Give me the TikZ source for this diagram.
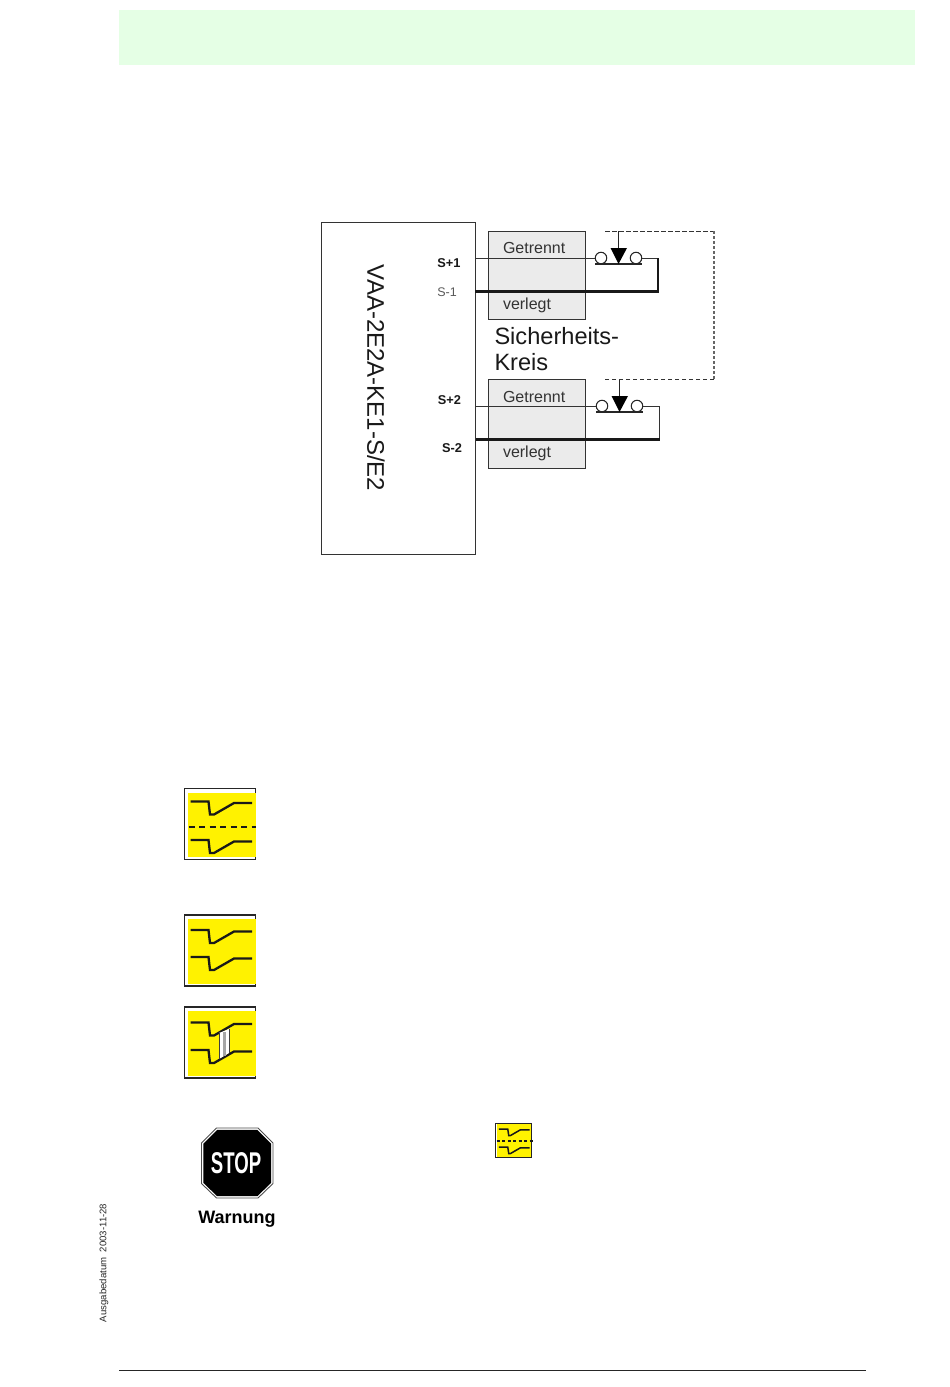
\documentclass[tikz,border=0pt]{standalone}
\usepackage{fontspec}
\setmainfont{Liberation Sans}
\usetikzlibrary{calc}
\newcommand{\fs}[1]{\fontsize{#1}{#1}\selectfont}
\definecolor{band}{HTML}{E5FFE5}
\definecolor{boxgrey}{HTML}{EBEBEB}
\definecolor{linegrey}{HTML}{333333}
\tikzset{
  x=1pt,y=-1pt,
  every node/.style={inner sep=0pt,outer sep=0pt},
  frame/.style={draw=linegrey,line width=0.95pt,fill=white,anchor=north west},
  greybox/.style={draw=linegrey,line width=0.95pt,fill=boxgrey,anchor=north west,minimum width=97.5pt},
  boxlabel/.style={font=\fs{16},text=linegrey,anchor=base west},
  pin/.style={font=\bfseries\fs{12.8},anchor=base,text=black!90},
  wire/.style={line width=0.95pt,draw=black!80},
  wirethick/.style={line width=2.2pt,draw=black!90},
  control/.style={line width=1pt,draw=black!80,dash pattern=on 4.5pt off 2.5pt},
  controlthick/.style={line width=1.9pt,draw=black!60,dash pattern=on 3pt off 2pt},
  contact/.style={circle,draw=black!85,line width=1.05pt,fill=white,minimum size=11.5pt},
  iconframe/.style={draw=black!85,line width=1.05pt,fill=white},
  iconfill/.style={fill=yellow,draw=none},
  dip/.style={line width=2.3pt,draw=black!90,line join=miter},
}
\newcommand{\dipline}[2]{\draw[dip] (#1+6.5,#2) -- (#1+24.5,#2) -- (#1+26,#2+13) -- (#1+30,#2+13) -- (#1+50,#2+1.5) -- (#1+68,#2+1.5);}
\newcommand{\iconbase}[2]{%
  \draw[iconframe] (#1,#2) rectangle (#1+71,#2+71);
  \fill[iconfill] (#1+3.7,#2+4) rectangle (#1+71,#2+68.5);}
\begin{document}
\begin{tikzpicture}
\useasboundingbox (0,0) rectangle (950,1387);
\fill[band] (119,10) rectangle (915,65);
\draw[line width=0.95pt,black!85] (119,1370) -- (866,1370);

% main unit
\node[frame,minimum width=154.5pt,minimum height=332pt] (unit) at (321,222.5) {};
\node[rotate=-90,font=\fs{24},text=black!90] (unitlabel) at (376,378) {VAA-2E2A-KE1-S/E2};
\node[pin] (s1p) at (449,267) {S+1};
\node[pin,font=\fs{12.5},text=black!65] (s1m) at (447,296) {S-1};
\node[pin] (s2p) at (449.5,404) {S+2};
\node[pin] (s2m) at (452,452) {S-2};

% grey boxes
\node[greybox,minimum height=88pt] (g1) at (488,231) {};
\node[greybox,minimum height=89pt] (g2) at (488,379) {};
\node[boxlabel] (g1a) at (503,253.5) {Getrennt};
\node[boxlabel] (g1b) at (503,309) {verlegt};
\node[boxlabel] (g2a) at (503,402) {Getrennt};
\node[boxlabel] (g2b) at (503,457.5) {verlegt};
\node[font=\fs{23.6},text=black!90,anchor=base west] (k1) at (494.5,344) {Sicherheits-};
\node[font=\fs{23.6},text=black!90,anchor=base west] (k2) at (494.5,370) {Kreis};

% anchors on the unit's right edge
\coordinate (a1) at (475,258);
\coordinate (b1) at (475,291.5);
\coordinate (a2) at (476,406);
\coordinate (b2) at (476,439.5);

% contacts
\node[contact] (c1l) at (601,258) {};
\node[contact] (c1r) at (636,258) {};
\node[contact] (c2l) at (602,406) {};
\node[contact] (c2r) at (637,406) {};
\coordinate (e1) at (658,258);
\coordinate (f1) at (658,291.5);
\coordinate (e2) at (659.5,406);
\coordinate (f2) at (659.5,439.5);

\draw[wire] (a1) -- (c1l);
\draw[wire] (c1r) -- (e1);
\draw[wirethick] (e1) -- (f1) -- (b1);
\draw[wire] (a2) -- (c2l);
\draw[wire] (c2r) -- (e2) -- (f2);
\draw[wirethick] (f2) -- (b2);

% bridges
\draw[line width=1.1pt,black!85] (595,264) -- (642,264);
\draw[line width=1.1pt,black!85] (596,412) -- (643,412);

% actuators
\coordinate (t1) at (618.5,231);
\coordinate (t2) at (619.5,379);
\coordinate (d1a) at (605,231);
\coordinate (d1b) at (714,231);
\coordinate (d2b) at (714,379);
\coordinate (d2a) at (605,379);
\draw[line width=1pt,black!85] (t1) -- (618.5,250);
\fill[black] (610.5,248) -- (627,248) -- (618.5,264) -- cycle;
\draw[line width=1pt,black!85] (t2) -- (619.5,398);
\fill[black] (611.5,396) -- (628,396) -- (619.5,412) -- cycle;
\draw[control] (d1a) -- (d1b);
\draw[controlthick] (d1b) -- (d2b);
\draw[control] (d2b) -- (d2a);

% icon 1
\iconbase{184.5}{788.5}
\dipline{184}{801.5}
\dipline{184}{840}
\draw[line width=2.6pt,black!90,dash pattern=on 6pt off 4.5pt] (188.5,827) -- (256,827);
% icon 2
\iconbase{184.5}{915}
\dipline{184}{930}
\dipline{184}{957}
% icon 3
\iconbase{184.5}{1007}
\dipline{184}{1022.5}
\dipline{184}{1050}
\fill[white] (219,1033) -- (229,1029) -- (229,1053) -- (219,1059) -- cycle;
\fill[black!35] (222.5,1031.5) rectangle (226,1056);
\draw[line width=0.9pt,black!75] (219,1033) -- (219,1059) (229,1029) -- (229,1053);

% small icon
\begin{scope}[shift={(495.5,1123)},x=0.5pt,y=-0.5pt]
  \draw[draw=black!85,line width=1pt,fill=white] (0,0) rectangle (71.5,69);
  \fill[iconfill] (2,2) rectangle (71,67);
  \draw[line width=1.5pt,black!90] (6.5,12) -- (24.5,12) -- (26.5,25) -- (30,25) -- (50,13.5) -- (68,13.5);
  \draw[line width=1.5pt,black!90] (6.5,48) -- (24.5,48) -- (26.5,61) -- (30,61) -- (50,49.5) -- (68,49.5);
  \draw[line width=1.6pt,black!90,dash pattern=on 3pt off 2.5pt] (2,36) -- (74,36);
\end{scope}

% stop sign
\draw[black!70,line width=0.9pt,fill=white] (216.5,1128) -- (258,1128) -- (273,1143) -- (273,1183.5) -- (258,1198) -- (216.5,1198) -- (201.5,1183.5) -- (201.5,1143) -- cycle;
\fill[black] (217.2,1129.8) -- (257.3,1129.8) -- (271.2,1143.7) -- (271.2,1182.8) -- (257.3,1196.2) -- (217.2,1196.2) -- (203.3,1182.8) -- (203.3,1143.7) -- cycle;
\node[font=\bfseries\fs{30},text=white,xscale=0.62] (stop) at (236,1163) {STOP};
\node[font=\bfseries\fs{18},text=black,anchor=base] (warn) at (237,1223) {Warnung};

% date
\node[rotate=90,font=\fs{9.6},text=black!85,anchor=west] (date) at (104,1322) {Ausgabedatum\ \ 2003-11-28};
\end{tikzpicture}
\end{document}
